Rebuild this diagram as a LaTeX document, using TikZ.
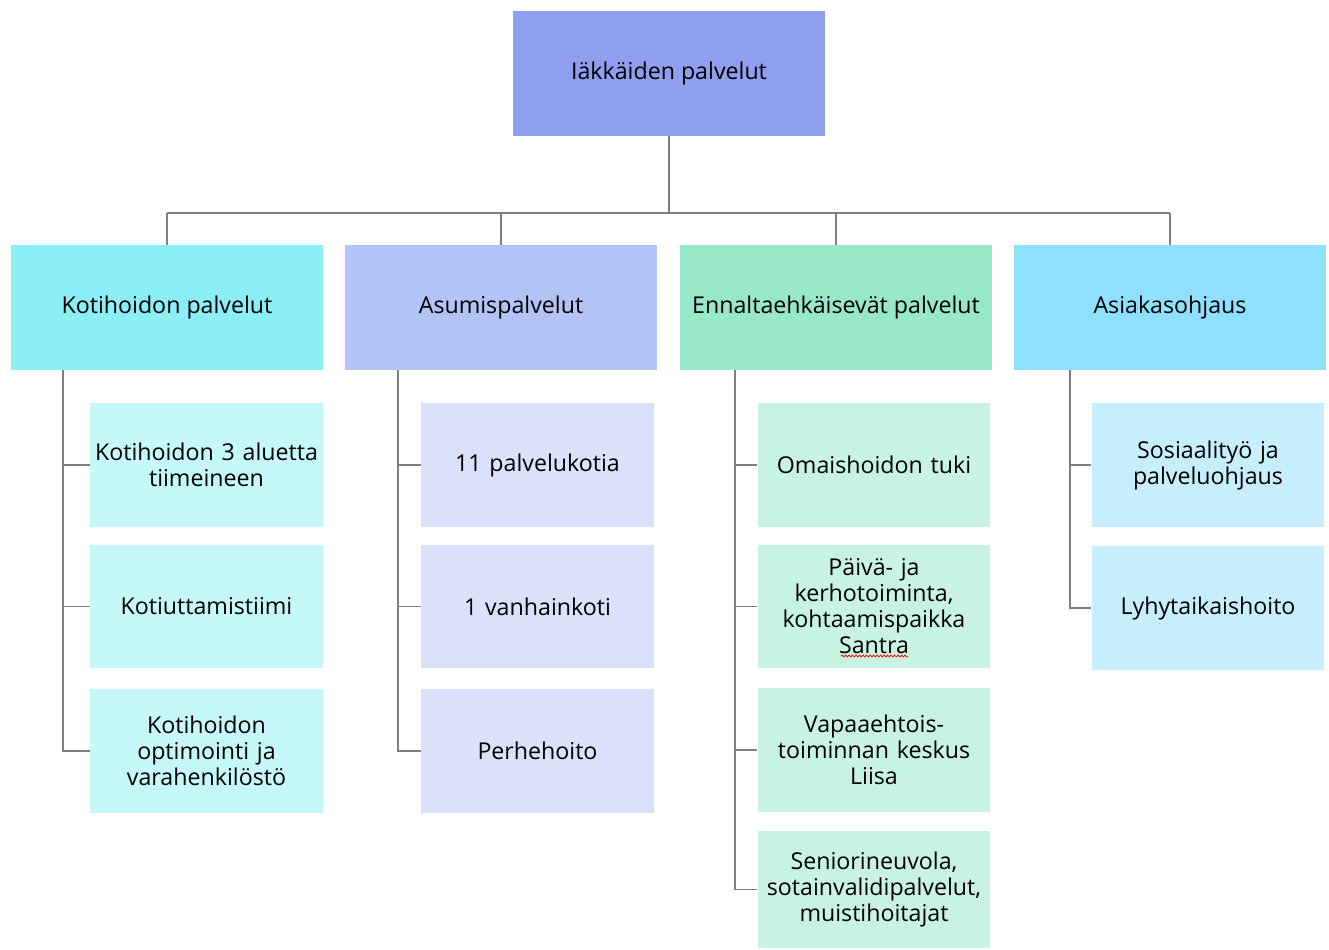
\documentclass[tikz,border=0pt]{standalone}
\usepackage{fontspec}
\setmainfont{Open Sans}
\usetikzlibrary{decorations.pathmorphing}

\definecolor{rootfill}{HTML}{8F9FF0}
\definecolor{khfill}{HTML}{8CEEF5}
\definecolor{asfill}{HTML}{B4C3F5}
\definecolor{enfill}{HTML}{96E8C8}
\definecolor{aofill}{HTML}{8FE0FC}
\definecolor{khsub}{HTML}{C6F8FA}
\definecolor{assub}{HTML}{DAE1FA}
\definecolor{ensub}{HTML}{C8F3E3}
\definecolor{aosub}{HTML}{C6EEFC}
\definecolor{linegray}{HTML}{7F7F7F}

\tikzset{
  box/.style={inner sep=0.08cm, align=center,
    font=\fontsize{13.2}{14.8}\selectfont},
  lvlone/.style={box, minimum width=6.24cm, minimum height=2.5cm},
  lvltwo/.style={box, text width=4.5cm, minimum height=2.48cm},
  conn/.style={draw=linegray, line width=0.7pt},
}

\begin{document}
\begin{tikzpicture}[x=0.02cm, y=-0.02cm]
    \useasboundingbox (0,0) rectangle (1329,950);
    % top
    \node[lvlone, fill=rootfill] (root) at (669,73.5) {Iäkkäiden palvelut};
    % first level
    \node[lvlone, fill=khfill] (kh) at (167,307.5) {Kotihoidon palvelut};
    \node[lvlone, fill=asfill] (as) at (501,307.5) {Asumispalvelut};
    \node[lvlone, fill=enfill] (en) at (836,307.5) {Ennaltaehkäisevät palvelut};
    \node[lvlone, fill=aofill] (ao) at (1170,307.5) {Asiakasohjaus};
    \coordinate (bus) at (669,213);
    \draw[conn] (root.south) -- (root.south |- bus);
    \draw[conn] (kh.north |- bus) -- (ao.north |- bus);
    \draw[conn] (kh.north) -- (kh.north |- bus);
    \draw[conn] (as.north) -- (as.north |- bus);
    \draw[conn] (en.north) -- (en.north |- bus);
    \draw[conn] (ao.north) -- (ao.north |- bus);
    % Kotihoidon palvelut
    \node[lvltwo, fill=khsub] (kh1) at (206.5,465) {Kotihoidon 3 aluetta\\tiimeineen};
    \node[lvltwo, fill=khsub] (kh2) at (206.5,606.5) {Kotiuttamistiimi};
    \node[lvltwo, fill=khsub] (kh3) at (206.5,751) {Kotihoidon\\optimointi ja\\varahenkilöstö};
    \coordinate (khT) at (63,370);
    \draw[conn] (khT) |- (kh1.west);
    \draw[conn] (khT) |- (kh2.west);
    \draw[conn] (khT) |- (kh3.west);
    % Asumispalvelut
    \node[lvltwo, fill=assub] (as1) at (537.5,465) {11 palvelukotia};
    \node[lvltwo, fill=assub] (as2) at (537.5,606.5) {1 vanhainkoti};
    \node[lvltwo, fill=assub] (as3) at (537.5,751) {Perhehoito};
    \coordinate (asT) at (398,370);
    \draw[conn] (asT) |- (as1.west);
    \draw[conn] (asT) |- (as2.west);
    \draw[conn] (asT) |- (as3.west);
    % Ennaltaehkaisevat palvelut
    \node[lvltwo, fill=ensub] (en1) at (874,465) {Omaishoidon tuki};
    \node[lvltwo, fill=ensub] (en2) at (874,606.5) {Päivä- ja\\kerhotoiminta,\\kohtaamispaikka\\Santra};
    \node[lvltwo, fill=ensub] (en3) at (874,750) {Vapaaehtois-\\toiminnan keskus\\Liisa};
    \node[lvltwo, fill=ensub, minimum height=2.34cm] (en4) at (874,889.5) {Seniorineuvola,\\sotainvalidipalvelut,\\muistihoitajat};
    \coordinate (enT) at (735,370);
    \draw[conn] (enT) |- (en1.west);
    \draw[conn] (enT) |- (en2.west);
    \draw[conn] (enT) |- (en3.west);
    \draw[conn] (enT) |- (en4.west);
    \draw[red, line width=0.4pt, decorate,
      decoration={snake, amplitude=0.02cm, segment length=0.07cm}]
      (841,656) -- (908,656);
    % Asiakasohjaus
    \node[lvltwo, fill=aosub] (ao1) at (1208,465) {Sosiaalityö ja\\palveluohjaus};
    \node[lvltwo, fill=aosub] (ao2) at (1208,608) {Lyhytaikaishoito};
    \coordinate (aoT) at (1070,370);
    \draw[conn] (aoT) |- (ao1.west);
    \draw[conn] (aoT) |- (ao2.west);
\end{tikzpicture}
\end{document}
